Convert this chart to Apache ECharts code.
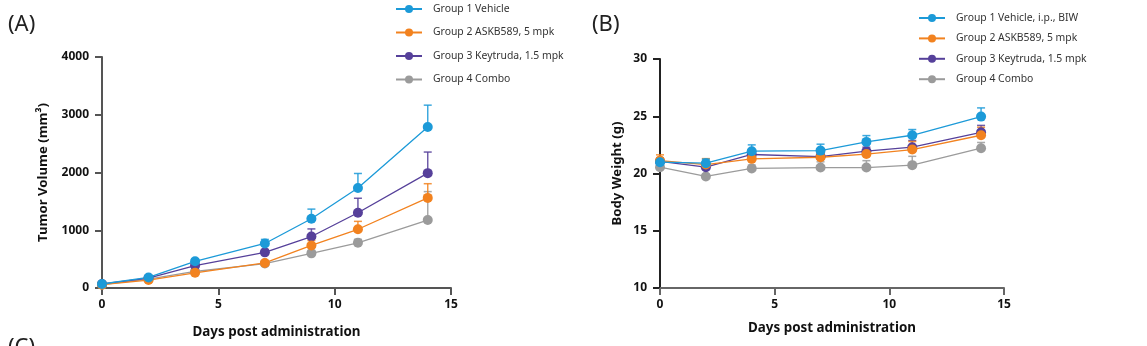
<!DOCTYPE html>
<html><head><meta charset="utf-8">
<script src="https://cdn.jsdelivr.net/npm/echarts@6/dist/echarts.min.js"></script>
<style>html,body{margin:0;padding:0;background:#fff}#c{width:1147px;height:346px}</style>
</head><body><div id="c"></div>
<script>
const days = [0, 2, 4, 7, 9, 11, 14];

const namesA = ['Group 1 Vehicle', 'Group 2 ASKB589, 5 mpk', 'Group 3 Keytruda, 1.5 mpk', 'Group 4 Combo'];
const namesB = ['Group 1 Vehicle, i.p., BIW', 'Group 2 ASKB589, 5 mpk', 'Group 3 Keytruda, 1.5 mpk', 'Group 4 Combo'];
const colors = ['#1c9ad8', '#f2821f', '#56409a', '#9b9b9b'];

// Tumor volume (mm3): mean and upper error
const tv_g1 = [69, 183, 463, 771, 1200, 1731, 2789];
const tv_g1_err = [10, 25, 40, 70, 166, 252, 377];
const tv_g2 = [57, 137, 263, 434, 737, 1017, 1560];
const tv_g2_err = [5, 15, 20, 30, 86, 137, 246];
const tv_g3 = [69, 171, 389, 617, 891, 1303, 1989];
const tv_g3_err = [5, 15, 30, 50, 132, 251, 365];
const tv_g4 = [57, 154, 286, 423, 600, 783, 1177];
const tv_g4_err = [5, 15, 20, 40, 50, 60, 492];

// Body weight (g): mean and upper error
const bw_g1 = [20.99, 20.90, 21.95, 22.00, 22.76, 23.34, 24.97];
const bw_g1_err = [0.38, 0.35, 0.55, 0.56, 0.55, 0.50, 0.76];
const bw_g2 = [21.13, 20.78, 21.28, 21.42, 21.70, 22.09, 23.34];
const bw_g2_err = [0.50, 0.52, 0.30, 0.30, 0.40, 0.70, 0.70];
const bw_g3 = [21.05, 20.55, 21.66, 21.48, 21.95, 22.30, 23.60];
const bw_g3_err = [0.30, 0.30, 0.30, 0.30, 0.35, 0.58, 0.60];
const bw_g4 = [20.55, 19.74, 20.44, 20.52, 20.52, 20.73, 22.21];
const bw_g4_err = [0.30, 0.20, 0.30, 0.50, 0.60, 0.77, 0.50];

const xTicks = [0, 5, 10, 15];
const yTicksA = [0, 1000, 2000, 3000, 4000];
const yTicksB = [10, 15, 20, 25, 30];

const FONT = 'Noto Sans';
const tvMeans = [tv_g1, tv_g2, tv_g3, tv_g4];
const tvErrs = [tv_g1_err, tv_g2_err, tv_g3_err, tv_g4_err];
const bwMeans = [bw_g1, bw_g2, bw_g3, bw_g4];
const bwErrs = [bw_g1_err, bw_g2_err, bw_g3_err, bw_g4_err];

function errSeries(idx, means, errs, color, name) {
  return {
    type: 'custom', name: 'err ' + idx + ' ' + name, xAxisIndex: idx, yAxisIndex: idx, z: 1, silent: true,
    itemStyle: { color: color },
    data: days.map((d, i) => [d, means[i], means[i] + errs[i]]),
    renderItem: function (params, api) {
      const p0 = api.coord([api.value(0), api.value(1)]);
      const p1 = api.coord([api.value(0), api.value(2)]);
      const hw = 4;
      return {
        type: 'group', children: [
          { type: 'line', shape: { x1: p0[0], y1: p0[1], x2: p1[0], y2: p1[1] }, style: { stroke: color, lineWidth: 1.5, opacity: 0.85 } },
          { type: 'line', shape: { x1: p1[0] - hw, y1: p1[1], x2: p1[0] + hw, y2: p1[1] }, style: { stroke: color, lineWidth: 1.5, opacity: 0.85 } }
        ]
      };
    }
  };
}

function lineSeries(idx, means, color, name) {
  return {
    type: 'line', name: name, xAxisIndex: idx, yAxisIndex: idx, z: 3,
    data: days.map((d, i) => [d, means[i]]),
    symbol: 'circle', symbolSize: 10, lineStyle: { color: color, width: 1.3 },
    itemStyle: { color: color }, animation: false
  };
}

const series = [];
for (let g = 3; g >= 0; g--) {
  series.push(errSeries(0, tvMeans[g], tvErrs[g], colors[g], namesA[g]));
  series.push(errSeries(1, bwMeans[g], bwErrs[g], colors[g], namesB[g]));
}
for (let g = 3; g >= 0; g--) {
  series.push(lineSeries(0, tvMeans[g], colors[g], namesA[g]));
  series.push(lineSeries(1, bwMeans[g], colors[g], namesB[g]));
}

function xAxis(idx, lineColor) {
  return {
    type: 'value', gridIndex: idx, min: 0, max: 15, interval: 5,
    name: 'Days post administration', nameLocation: 'middle', nameGap: idx === 0 ? 38 : 34,
    nameTextStyle: { fontFamily: FONT, fontWeight: 'bold', fontSize: 13.4, color: '#111' },
    axisLine: { lineStyle: { color: lineColor, width: 2 } },
    axisTick: { length: 7, lineStyle: { color: lineColor, width: 2 } },
    axisLabel: { fontFamily: FONT, fontWeight: 'bold', fontSize: 12, color: '#111', margin: 11,
      formatter: v => xTicks.includes(v) ? String(v) : '' },
    splitLine: { show: false }
  };
}
function yAxis(idx, name, min, max, interval, ticks, lineColor, gap) {
  return {
    type: 'value', gridIndex: idx, min: min, max: max, interval: interval,
    name: name, nameLocation: 'middle', nameGap: gap, nameRotate: 90,
    nameTextStyle: { fontFamily: FONT, fontWeight: 'bold', fontSize: 13.2, color: '#111' },
    axisLine: { show: true, lineStyle: { color: lineColor, width: 2 } },
    axisTick: { show: true, length: 7, lineStyle: { color: lineColor, width: 2 } },
    axisLabel: { fontFamily: FONT, fontWeight: 'bold', fontSize: 12, color: '#111', margin: 13,
      formatter: v => ticks.includes(v) ? String(v) : '' },
    splitLine: { show: false }
  };
}

const chart = echarts.init(document.getElementById('c'), null, { renderer: 'canvas' });
chart.setOption({
  animation: false,
  backgroundColor: '#fff',
  grid: [
    { left: 102, right: 696, top: 57, bottom: 58, outerBoundsMode: 'none', containLabel: false },
    { left: 660, right: 143, top: 59, bottom: 58, outerBoundsMode: 'none', containLabel: false }
  ],
  xAxis: [xAxis(0, '#555'), xAxis(1, '#666')],
  yAxis: [
    yAxis(0, 'Tumor Volume (mm³)', 0, 4000, 1000, yTicksA, '#555', 52),
    yAxis(1, 'Body Weight (g)', 10, 30, 5, yTicksB, '#222', 36)
  ],
  legend: [
    { data: namesA, orient: 'vertical', left: 390, top: -1, itemWidth: 26, itemHeight: 10, itemGap: 13.5,
      textStyle: { fontFamily: FONT, fontSize: 10.4, color: '#333', padding: [0, 0, 0, 6] }, selectedMode: false },
    { data: namesB, orient: 'vertical', left: 913, top: 8, itemWidth: 26, itemHeight: 10, itemGap: 10.4,
      textStyle: { fontFamily: FONT, fontSize: 10.4, color: '#333', padding: [0, 0, 0, 6] }, selectedMode: false }
  ],
  graphic: [
    { type: 'text', left: 8, top: 14, style: { text: '(A)', font: '22px "Noto Sans"', fill: '#222' } },
    { type: 'text', left: 592, top: 14, style: { text: '(B)', font: '22px "Noto Sans"', fill: '#222' } },
    { type: 'text', left: 8, top: 337, style: { text: '(C)', font: '22px "Noto Sans"', fill: '#222' } }
  ],
  series: series
});
</script>
</body></html>
